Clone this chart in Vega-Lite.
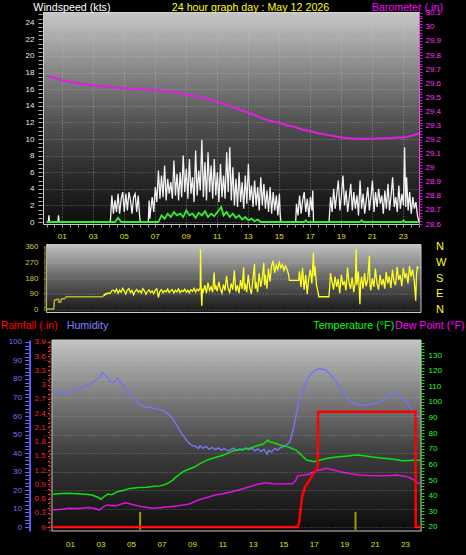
{
"$schema":"https://vega.github.io/schema/vega-lite/v6.json",
"background":"black",
"padding":{"left":0,"top":0,"right":8,"bottom":14},
"spacing":3.5,
"config":{"font":"Liberation Sans","view":{"stroke":null},
 "axis":{"labelFont":"Liberation Sans","titleFont":"Liberation Sans","labelFontSize":8,"titleFontSize":10.7,"titleFontWeight":"normal"},
 "line":{"clip":true},"rule":{"clip":true}},
"datasets":{
"hours":[{"h":1,"lab":"01"},{"h":3,"lab":"03"},{"h":5,"lab":"05"},{"h":7,"lab":"07"},{"h":9,"lab":"09"},{"h":11,"lab":"11"},{"h":13,"lab":"13"},{"h":15,"lab":"15"},{"h":17,"lab":"17"},{"h":19,"lab":"19"},{"h":21,"lab":"21"},{"h":23,"lab":"23"}],
"gust":[{"h":0,"g":0},{"h":0.1,"g":0},{"h":0.14,"g":0.8},{"h":0.18,"g":0},{"h":0.72,"g":0},{"h":0.76,"g":0.8},{"h":0.8,"g":0},{"h":4.1,"g":0},
{"h":4.2,"g":3.2},{"h":4.3,"g":1.0},{"h":4.4,"g":2.6},{"h":4.5,"g":1.2},{"h":4.6,"g":3.4},{"h":4.7,"g":1.0},{"h":4.8,"g":2.8},{"h":4.9,"g":3.6},{"h":5.0,"g":1.2},{"h":5.1,"g":3.4},{"h":5.2,"g":1.4},{"h":5.3,"g":3.6},{"h":5.4,"g":2.6},{"h":5.5,"g":1.0},{"h":5.6,"g":3.0},{"h":5.7,"g":3.4},{"h":5.8,"g":1.2},{"h":5.9,"g":3.2},{"h":6.0,"g":0.4},{"h":6.05,"g":0},
{"h":6.55,"g":0},{"h":6.6,"g":2.6},{"h":6.65,"g":0.4},{"h":6.7,"g":1.4},{"h":6.8,"g":3.0},{"h":6.9,"g":1.2},
{"h":7.0,"g":4.2},{"h":7.1,"g":2.4},{"h":7.2,"g":6.2},{"h":7.3,"g":2.8},{"h":7.4,"g":5.6},{"h":7.5,"g":3.0},{"h":7.6,"g":6.8},{"h":7.7,"g":2.6},{"h":7.8,"g":5.2},{"h":7.9,"g":3.4},{"h":8.0,"g":4.8},{"h":8.1,"g":2.8},{"h":8.2,"g":7.4},{"h":8.3,"g":3.2},{"h":8.4,"g":5.8},{"h":8.5,"g":2.6},{"h":8.6,"g":6.0},{"h":8.7,"g":3.0},{"h":8.8,"g":8.0},{"h":8.9,"g":3.6},{"h":9.0,"g":6.4},{"h":9.1,"g":2.8},{"h":9.2,"g":7.6},{"h":9.3,"g":3.4},{"h":9.4,"g":5.4},{"h":9.5,"g":2.4},{"h":9.6,"g":8.6},{"h":9.7,"g":3.2},{"h":9.8,"g":6.2},{"h":9.9,"g":3.8},{"h":10.0,"g":9.9},{"h":10.1,"g":3.0},{"h":10.2,"g":7.2},{"h":10.3,"g":2.6},{"h":10.4,"g":8.4},{"h":10.5,"g":3.6},{"h":10.6,"g":6.8},{"h":10.7,"g":2.8},{"h":10.8,"g":7.6},{"h":10.9,"g":3.2},{"h":11.0,"g":6.0},{"h":11.1,"g":2.4},{"h":11.2,"g":7.0},{"h":11.3,"g":3.0},{"h":11.4,"g":5.6},{"h":11.5,"g":2.8},{"h":11.6,"g":8.4},{"h":11.7,"g":3.6},{"h":11.8,"g":9.0},{"h":11.9,"g":2.6},{"h":12.0,"g":6.6},{"h":12.1,"g":2.0},{"h":12.2,"g":5.2},{"h":12.3,"g":1.8},{"h":12.4,"g":6.0},{"h":12.5,"g":2.4},{"h":12.6,"g":4.8},{"h":12.7,"g":1.6},{"h":12.8,"g":5.6},{"h":12.9,"g":2.2},{"h":13.0,"g":7.0},{"h":13.1,"g":2.6},{"h":13.2,"g":4.4},{"h":13.3,"g":1.8},{"h":13.4,"g":5.0},{"h":13.5,"g":2.0},{"h":13.6,"g":4.2},{"h":13.7,"g":1.4},{"h":13.8,"g":5.4},{"h":13.9,"g":2.0},{"h":14.0,"g":4.6},{"h":14.1,"g":1.6},{"h":14.2,"g":3.8},{"h":14.3,"g":1.2},{"h":14.4,"g":4.2},{"h":14.5,"g":1.0},{"h":14.6,"g":3.6},{"h":14.7,"g":1.4},{"h":14.8,"g":3.2},{"h":14.9,"g":0.8},{"h":15.0,"g":3.4},{"h":15.05,"g":1.0},{"h":15.1,"g":0},
{"h":16.05,"g":0},{"h":16.1,"g":2.2},{"h":16.2,"g":0.8},{"h":16.3,"g":3.2},{"h":16.4,"g":1.0},{"h":16.5,"g":2.6},{"h":16.6,"g":3.6},{"h":16.7,"g":1.2},{"h":16.8,"g":2.8},{"h":16.9,"g":0.6},{"h":17.0,"g":3.0},{"h":17.1,"g":1.4},{"h":17.15,"g":3.8},{"h":17.2,"g":0},
{"h":18.2,"g":0},{"h":18.3,"g":3.0},{"h":18.4,"g":1.2},{"h":18.5,"g":4.0},{"h":18.6,"g":1.6},{"h":18.7,"g":3.4},{"h":18.8,"g":5.0},{"h":18.9,"g":1.4},{"h":19.0,"g":3.2},{"h":19.1,"g":5.6},{"h":19.2,"g":2.0},{"h":19.3,"g":3.8},{"h":19.4,"g":1.2},{"h":19.5,"g":2.8},{"h":19.6,"g":4.6},{"h":19.7,"g":1.4},{"h":19.8,"g":3.6},{"h":19.9,"g":1.6},{"h":20.0,"g":3.2},{"h":20.1,"g":0.8},{"h":20.2,"g":5.0},{"h":20.3,"g":1.6},{"h":20.4,"g":3.4},{"h":20.5,"g":1.0},{"h":20.6,"g":2.6},{"h":20.7,"g":4.2},{"h":20.8,"g":1.4},{"h":20.9,"g":3.0},{"h":21.0,"g":5.0},{"h":21.1,"g":1.2},{"h":21.2,"g":3.6},{"h":21.3,"g":1.8},{"h":21.4,"g":4.0},{"h":21.5,"g":2.2},{"h":21.6,"g":3.2},{"h":21.7,"g":1.0},{"h":21.8,"g":3.8},{"h":21.9,"g":1.6},{"h":22.0,"g":4.6},{"h":22.1,"g":1.4},{"h":22.2,"g":3.2},{"h":22.3,"g":5.4},{"h":22.4,"g":1.8},{"h":22.5,"g":3.0},{"h":22.6,"g":1.2},{"h":22.7,"g":4.4},{"h":22.8,"g":1.6},{"h":22.9,"g":3.4},{"h":23.0,"g":2.0},{"h":23.07,"g":9.0},{"h":23.15,"g":1.8},{"h":23.2,"g":5.4},{"h":23.3,"g":1.4},{"h":23.4,"g":3.6},{"h":23.5,"g":1.0},{"h":23.6,"g":3.0},{"h":23.7,"g":1.6},{"h":23.8,"g":2.4},{"h":23.9,"g":0.8},{"h":24.0,"g":0}],
"avg":[{"h":0,"a":0},{"h":4.4,"a":0},{"h":4.6,"a":0.5},{"h":4.8,"a":0},{"h":7.2,"a":0},{"h":7.4,"a":0.8},{"h":7.6,"a":0.4},{"h":7.8,"a":1.0},{"h":8.0,"a":0.6},{"h":8.2,"a":1.2},{"h":8.4,"a":0.8},{"h":8.6,"a":1.0},{"h":8.8,"a":0.6},{"h":9.0,"a":1.4},{"h":9.2,"a":0.8},{"h":9.4,"a":1.0},{"h":9.6,"a":0.5},{"h":9.8,"a":1.1},{"h":10.0,"a":0.8},{"h":10.2,"a":1.3},{"h":10.4,"a":0.6},{"h":10.6,"a":1.0},{"h":10.8,"a":0.7},{"h":11.0,"a":1.2},{"h":11.25,"a":1.8},{"h":11.4,"a":0.8},{"h":11.6,"a":1.2},{"h":11.8,"a":0.6},{"h":12.0,"a":1.0},{"h":12.2,"a":0.5},{"h":12.4,"a":0.8},{"h":12.6,"a":0.3},{"h":12.8,"a":0.6},{"h":13.0,"a":0.2},{"h":13.2,"a":0.4},{"h":13.4,"a":0.1},{"h":13.6,"a":0.3},{"h":13.8,"a":0},{"h":16.6,"a":0},{"h":16.7,"a":0.2},{"h":16.8,"a":0},{"h":20.2,"a":0},{"h":20.3,"a":0.2},{"h":20.4,"a":0},{"h":22.9,"a":0},{"h":23.0,"a":0.2},{"h":23.1,"a":0},{"h":24,"a":0}],
"baro":[{"h":0,"p":29.65},{"h":0.5,"p":29.64},{"h":1,"p":29.62},{"h":1.5,"p":29.61},{"h":2,"p":29.6},{"h":2.5,"p":29.59},{"h":3,"p":29.585},{"h":3.5,"p":29.58},{"h":4,"p":29.575},{"h":4.5,"p":29.57},{"h":5,"p":29.565},{"h":5.5,"p":29.56},{"h":6,"p":29.56},{"h":6.5,"p":29.555},{"h":7,"p":29.55},{"h":7.5,"p":29.545},{"h":8,"p":29.54},{"h":8.5,"p":29.53},{"h":9,"p":29.52},{"h":9.5,"p":29.51},{"h":10,"p":29.5},{"h":10.5,"p":29.485},{"h":11,"p":29.47},{"h":11.5,"p":29.45},{"h":12,"p":29.43},{"h":12.5,"p":29.41},{"h":13,"p":29.39},{"h":13.5,"p":29.37},{"h":14,"p":29.345},{"h":14.5,"p":29.33},{"h":15,"p":29.32},{"h":15.5,"p":29.3},{"h":16,"p":29.29},{"h":16.5,"p":29.27},{"h":17,"p":29.26},{"h":17.5,"p":29.245},{"h":18,"p":29.235},{"h":18.5,"p":29.225},{"h":19,"p":29.215},{"h":19.5,"p":29.21},{"h":20,"p":29.205},{"h":20.5,"p":29.205},{"h":21,"p":29.205},{"h":21.5,"p":29.21},{"h":22,"p":29.21},{"h":22.5,"p":29.215},{"h":23,"p":29.215},{"h":23.5,"p":29.225},{"h":24,"p":29.245}],
"dir0":[{"h":0,"d":4},{"h":0.45,"d":4},{"h":0.5,"d":55},{"h":0.75,"d":60},{"h":0.8,"d":42},{"h":0.9,"d":45},{"h":0.95,"d":62},{"h":1.15,"d":62},{"h":1.25,"d":74},{"h":3.6,"d":74},{"h":3.75,"d":90},{"h":4.0,"d":95}],
"dir":[{"h":3.7,"d":80},{"h":3.8,"d":88},{"h":3.9,"d":92},{"h":4,"d":95},{"h":4.1,"d":94},{"h":4.2,"d":110},{"h":4.3,"d":112},{"h":4.4,"d":100},{"h":4.5,"d":118},{"h":4.6,"d":95},{"h":4.7,"d":112},{"h":4.8,"d":100},{"h":4.9,"d":122},{"h":5,"d":108},{"h":5.1,"d":90},{"h":5.2,"d":112},{"h":5.3,"d":120},{"h":5.4,"d":98},{"h":5.5,"d":110},{"h":5.6,"d":85},{"h":5.7,"d":104},{"h":5.8,"d":116},{"h":5.9,"d":100},{"h":6,"d":110},{"h":6.1,"d":96},{"h":6.2,"d":120},{"h":6.3,"d":108},{"h":6.4,"d":88},{"h":6.5,"d":104},{"h":6.6,"d":114},{"h":6.7,"d":98},{"h":6.8,"d":108},{"h":6.9,"d":92},{"h":7,"d":112},{"h":7.1,"d":120},{"h":7.2,"d":70},{"h":7.3,"d":105},{"h":7.4,"d":115},{"h":7.5,"d":96},{"h":7.6,"d":110},{"h":7.7,"d":102},{"h":7.8,"d":118},{"h":7.9,"d":98},{"h":8,"d":108},{"h":8.1,"d":115},{"h":8.2,"d":95},{"h":8.3,"d":112},{"h":8.4,"d":102},{"h":8.5,"d":120},{"h":8.6,"d":98},{"h":8.7,"d":110},{"h":8.8,"d":104},{"h":8.9,"d":118},{"h":9,"d":100},{"h":9.1,"d":112},{"h":9.2,"d":96},{"h":9.3,"d":115},{"h":9.4,"d":105},{"h":9.5,"d":122},{"h":9.6,"d":100},{"h":9.7,"d":118},{"h":9.8,"d":108},{"h":9.9,"d":125},{"h":9.92,"d":347},{"h":9.96,"d":110},{"h":10,"d":22},{"h":10.05,"d":120},{"h":10.1,"d":105},{"h":10.2,"d":140},{"h":10.3,"d":95},{"h":10.4,"d":155},{"h":10.5,"d":110},{"h":10.6,"d":130},{"h":10.7,"d":100},{"h":10.8,"d":213},{"h":10.85,"d":115},{"h":10.9,"d":140},{"h":11,"d":105},{"h":11.1,"d":160},{"h":11.2,"d":120},{"h":11.3,"d":95},{"h":11.4,"d":145},{"h":11.5,"d":110},{"h":11.6,"d":194},{"h":11.7,"d":120},{"h":11.8,"d":100},{"h":11.9,"d":150},{"h":12,"d":115},{"h":12.1,"d":225},{"h":12.2,"d":105},{"h":12.3,"d":140},{"h":12.4,"d":95},{"h":12.5,"d":170},{"h":12.6,"d":118},{"h":12.7,"d":242},{"h":12.75,"d":110},{"h":12.8,"d":150},{"h":12.9,"d":100},{"h":13,"d":200},{"h":13.1,"d":125},{"h":13.2,"d":90},{"h":13.3,"d":175},{"h":13.4,"d":261},{"h":13.45,"d":120},{"h":13.5,"d":160},{"h":13.6,"d":100},{"h":13.7,"d":210},{"h":13.8,"d":130},{"h":13.9,"d":180},{"h":14,"d":268},{"h":14.05,"d":140},{"h":14.1,"d":200},{"h":14.2,"d":120},{"h":14.3,"d":235},{"h":14.4,"d":160},{"h":14.5,"d":250},{"h":14.6,"d":280},{"h":14.7,"d":210},{"h":14.8,"d":255},{"h":14.9,"d":230},{"h":15,"d":270},{"h":15.1,"d":240},{"h":15.2,"d":258},{"h":15.3,"d":225},{"h":15.4,"d":250},{"h":15.5,"d":232},{"h":15.6,"d":200},{"h":15.65,"d":168},{"h":16.25,"d":168},{"h":16.3,"d":220},{"h":16.4,"d":130},{"h":16.5,"d":240},{"h":16.6,"d":115},{"h":16.7,"d":200},{"h":16.8,"d":90},{"h":16.9,"d":180},{"h":17,"d":230},{"h":17.1,"d":150},{"h":17.2,"d":326},{"h":17.25,"d":190},{"h":17.3,"d":250},{"h":17.4,"d":140},{"h":17.5,"d":100},{"h":17.55,"d":74},{"h":18.2,"d":74},{"h":18.25,"d":130},{"h":18.3,"d":210},{"h":18.4,"d":160},{"h":18.5,"d":115},{"h":18.6,"d":190},{"h":18.7,"d":130},{"h":18.8,"d":175},{"h":18.9,"d":95},{"h":19,"d":200},{"h":19.1,"d":140},{"h":19.2,"d":165},{"h":19.3,"d":110},{"h":19.4,"d":242},{"h":19.5,"d":150},{"h":19.6,"d":120},{"h":19.7,"d":185},{"h":19.8,"d":100},{"h":19.9,"d":160},{"h":19.96,"d":347},{"h":20,"d":140},{"h":20.1,"d":220},{"h":20.2,"d":32},{"h":20.25,"d":150},{"h":20.3,"d":190},{"h":20.4,"d":120},{"h":20.5,"d":210},{"h":20.6,"d":135},{"h":20.7,"d":170},{"h":20.81,"d":309},{"h":20.85,"d":150},{"h":20.9,"d":110},{"h":21,"d":180},{"h":21.1,"d":130},{"h":21.2,"d":235},{"h":21.3,"d":150},{"h":21.4,"d":115},{"h":21.5,"d":200},{"h":21.6,"d":140},{"h":21.7,"d":175},{"h":21.8,"d":120},{"h":21.9,"d":215},{"h":22,"d":150},{"h":22.1,"d":190},{"h":22.2,"d":125},{"h":22.3,"d":230},{"h":22.4,"d":160},{"h":22.5,"d":140},{"h":22.6,"d":245},{"h":22.7,"d":170},{"h":22.8,"d":200},{"h":22.9,"d":135},{"h":23,"d":240},{"h":23.1,"d":180},{"h":23.2,"d":210},{"h":23.3,"d":150},{"h":23.4,"d":250},{"h":23.5,"d":190},{"h":23.6,"d":230},{"h":23.7,"d":170},{"h":23.8,"d":51},{"h":23.85,"d":200},{"h":23.9,"d":245},{"h":24,"d":238}],
"hum":[{"h":-0.2,"v":73},{"h":0,"v":73},{"h":0.5,"v":72},{"h":1,"v":73},{"h":1.3,"v":74},{"h":1.8,"v":75.5},{"h":2.2,"v":77},{"h":2.6,"v":79},{"h":2.9,"v":81},{"h":3.1,"v":83.5},{"h":3.3,"v":82},{"h":3.6,"v":78.5},{"h":3.8,"v":78},{"h":4.1,"v":80.5},{"h":4.3,"v":78},{"h":4.6,"v":75},{"h":4.9,"v":72.4},{"h":5.2,"v":69},{"h":5.5,"v":66.5},{"h":5.8,"v":65},{"h":6.3,"v":64.5},{"h":6.8,"v":63.5},{"h":7.1,"v":63},{"h":7.4,"v":61},{"h":7.7,"v":58.7},{"h":8,"v":54.5},{"h":8.3,"v":50.6},{"h":8.6,"v":47},{"h":8.8,"v":45.2},{"h":9,"v":44},{"h":9.25,"v":43.4},{"h":9.4,"v":42.4},{"h":9.5,"v":44},{"h":9.7,"v":42.5},{"h":9.9,"v":43.6},{"h":10.1,"v":42},{"h":10.3,"v":43},{"h":10.5,"v":41.8},{"h":10.7,"v":42.8},{"h":10.9,"v":41.6},{"h":11.1,"v":42.4},{"h":11.3,"v":41.2},{"h":11.5,"v":41.8},{"h":11.7,"v":42.6},{"h":11.9,"v":41.4},{"h":12.1,"v":42.2},{"h":12.3,"v":41.6},{"h":12.5,"v":42.8},{"h":12.7,"v":41.8},{"h":12.9,"v":42.6},{"h":13.1,"v":41.2},{"h":13.3,"v":42.2},{"h":13.5,"v":40.8},{"h":13.7,"v":42},{"h":13.9,"v":39.5},{"h":14,"v":41.5},{"h":14.2,"v":40.6},{"h":14.4,"v":42.4},{"h":14.6,"v":41.6},{"h":14.8,"v":43},{"h":15,"v":43.5},{"h":15.2,"v":44.5},{"h":15.4,"v":46},{"h":15.6,"v":52},{"h":15.75,"v":58},{"h":15.9,"v":64},{"h":16,"v":68.6},{"h":16.2,"v":73},{"h":16.5,"v":79.5},{"h":16.8,"v":83},{"h":17.1,"v":85},{"h":17.4,"v":85.5},{"h":17.7,"v":85},{"h":18,"v":83},{"h":18.2,"v":81},{"h":18.4,"v":79},{"h":18.7,"v":75},{"h":19,"v":71.5},{"h":19.3,"v":68.6},{"h":19.6,"v":67},{"h":20,"v":66},{"h":20.4,"v":66},{"h":20.8,"v":66.5},{"h":21.3,"v":67.5},{"h":21.7,"v":69.5},{"h":22,"v":71.5},{"h":22.3,"v":72.5},{"h":22.6,"v":71.5},{"h":22.8,"v":69.5},{"h":23.1,"v":67},{"h":23.3,"v":64.5},{"h":23.5,"v":62.3},{"h":23.7,"v":60.5},{"h":23.9,"v":59.5},{"h":24,"v":59}],
"temp":[{"h":-0.2,"t":41},{"h":0.2,"t":41.2},{"h":0.8,"t":41.6},{"h":1.4,"t":41.3},{"h":2,"t":41},{"h":2.4,"t":40.5},{"h":2.8,"t":39},{"h":3,"t":37.7},{"h":3.2,"t":39.5},{"h":3.45,"t":41.1},{"h":3.7,"t":40.6},{"h":4.1,"t":42.6},{"h":4.5,"t":43.5},{"h":4.9,"t":44.7},{"h":5.5,"t":45.2},{"h":6,"t":45.5},{"h":6.5,"t":46},{"h":6.9,"t":46.3},{"h":7.2,"t":47.2},{"h":7.5,"t":48.5},{"h":7.7,"t":50},{"h":8,"t":52.5},{"h":8.4,"t":55.4},{"h":8.7,"t":56.8},{"h":9.1,"t":58.2},{"h":9.5,"t":60.5},{"h":9.95,"t":62.8},{"h":10.5,"t":64.5},{"h":11.05,"t":66},{"h":11.4,"t":67.6},{"h":11.7,"t":68.8},{"h":12.2,"t":69.6},{"h":12.75,"t":70.3},{"h":13.2,"t":71.8},{"h":13.65,"t":73.1},{"h":13.95,"t":75.6},{"h":14.1,"t":74.3},{"h":14.3,"t":74},{"h":14.7,"t":72.6},{"h":15.2,"t":71.4},{"h":15.5,"t":70.4},{"h":15.8,"t":69.2},{"h":16.1,"t":66.5},{"h":16.5,"t":62.8},{"h":17,"t":61.8},{"h":17.4,"t":62.8},{"h":17.8,"t":63.8},{"h":18.3,"t":64.6},{"h":19,"t":65.3},{"h":19.8,"t":66},{"h":20.3,"t":65.6},{"h":20.7,"t":65},{"h":21.4,"t":64.2},{"h":22.2,"t":63.3},{"h":22.8,"t":62.4},{"h":23.3,"t":62.6},{"h":23.7,"t":62.8},{"h":24,"t":62.6}],
"dew":[{"h":-0.2,"t":30.9},{"h":0.4,"t":31.3},{"h":0.9,"t":32},{"h":1.5,"t":31.8},{"h":2.2,"t":32.4},{"h":2.6,"t":31.8},{"h":2.9,"t":30.9},{"h":3.1,"t":32.5},{"h":3.4,"t":34.1},{"h":3.9,"t":33.5},{"h":4.3,"t":34.6},{"h":4.6,"t":35.5},{"h":5,"t":34.6},{"h":5.4,"t":33.6},{"h":5.7,"t":33},{"h":6.4,"t":32},{"h":7,"t":32.4},{"h":7.5,"t":33},{"h":8.2,"t":33.8},{"h":8.8,"t":34.7},{"h":9.1,"t":36},{"h":9.4,"t":37.3},{"h":10,"t":39},{"h":10.5,"t":40.5},{"h":11,"t":41.2},{"h":11.6,"t":42.6},{"h":12.2,"t":44.2},{"h":12.75,"t":45.8},{"h":13.3,"t":47.4},{"h":13.8,"t":48.3},{"h":14.3,"t":47.6},{"h":14.9,"t":47.5},{"h":15.6,"t":47.8},{"h":15.8,"t":50},{"h":15.9,"t":52.6},{"h":16.3,"t":53.2},{"h":16.7,"t":53.9},{"h":17.1,"t":56},{"h":17.5,"t":56.8},{"h":17.8,"t":57.5},{"h":18.2,"t":56.6},{"h":18.7,"t":55.4},{"h":19.3,"t":54.2},{"h":19.97,"t":53.3},{"h":20.6,"t":52.9},{"h":21.3,"t":52.7},{"h":22,"t":53},{"h":22.4,"t":53.3},{"h":23.1,"t":52.2},{"h":23.5,"t":50.4},{"h":23.8,"t":48.3},{"h":24,"t":47.5}],
"rain":[{"h":-0.2,"r":0},{"h":15.9,"r":0},{"h":16,"r":0.08},{"h":16.1,"r":0.35},{"h":16.2,"r":0.64},{"h":16.4,"r":0.85},{"h":16.7,"r":0.99},{"h":16.9,"r":1.1},{"h":17.1,"r":1.2},{"h":17.22,"r":1.25},{"h":17.25,"r":2.43},{"h":23.65,"r":2.43},{"h":23.66,"r":0},{"h":24,"r":0}],
"rate":[{"h":5.57,"r":0.32},{"h":19.71,"r":0.32}]
},
"vconcat":[
{"width":376,"height":212,
 "view":{"fill":{"gradient":"linear","x1":0,"y1":0,"x2":0,"y2":1,"stops":[{"offset":0,"color":"#c6c6c6"},{"offset":0.25,"color":"#8c8c8c"},{"offset":0.5,"color":"#555555"},{"offset":0.75,"color":"#2c2c2c"},{"offset":1,"color":"#0e0e0e"}]},"stroke":"#d0d0d0","strokeWidth":1},
 "layer":[
  {"data":{"name":"gust"},"mark":{"type":"line","color":"#f2f2f2","strokeWidth":1.3},
   "encoding":{
    "x":{"field":"h","type":"quantitative","scale":{"domain":[-0.24,24],"nice":false,"zero":false},
      "axis":{"orient":"bottom","values":[0,0.5,1,1.5,2,2.5,3,3.5,4,4.5,5,5.5,6,6.5,7,7.5,8,8.5,9,9.5,10,10.5,11,11.5,12,12.5,13,13.5,14,14.5,15,15.5,16,16.5,17,17.5,18,18.5,19,19.5,20,20.5,21,21.5,22,22.5,23,23.5,24],"labels":false,"tickSize":3,"tickColor":"#a0a0a0","domain":false,"title":null,"grid":true,"gridColor":"#c8c8c8","gridDash":[1,2],"gridOpacity":{"condition":{"test":"datum.value % 2 == 1","value":0.55},"value":0}}},
    "y":{"field":"g","type":"quantitative","scale":{"domain":[-0.24,25.3],"nice":false,"zero":false},
      "axis":{"orient":"left","values":[0,0.5,1,1.5,2,2.5,3,3.5,4,4.5,5,5.5,6,6.5,7,7.5,8,8.5,9,9.5,10,10.5,11,11.5,12,12.5,13,13.5,14,14.5,15,15.5,16,16.5,17,17.5,18,18.5,19,19.5,20,20.5,21,21.5,22,22.5,23,23.5,24,24.5,25],"labelExpr":"datum.value % 2 == 0 ? '' + datum.value : ''","labelOverlap":false,"labelFlush":false,"labelColor":"#e4ecff","tickColor":"#b0b0b0","tickSize":4,"offset":1,"labelPadding":4,"domain":false,"grid":true,"gridColor":"#c8c8c8","gridDash":[1,2],"gridOpacity":{"condition":{"test":"datum.value % 2 == 0","value":0.45},"value":0},"title":"Windspeed (kts)","titleColor":"#ffffff","titleAngle":0,"titleAlign":"left","titleBaseline":"top","titleX":-9.2,"titleY":-10}}}},
  {"data":{"name":"avg"},"mark":{"type":"line","color":"#30f030","strokeWidth":1.8},
   "encoding":{"x":{"field":"h","type":"quantitative","axis":null},
    "y":{"field":"a","type":"quantitative","scale":{"domain":[-0.24,25.3],"nice":false,"zero":false},"axis":null}}},
  {"data":{"name":"baro"},"mark":{"type":"line","color":"#e020e0","strokeWidth":2},
   "encoding":{
    "x":{"field":"h","type":"quantitative","axis":{"orient":"top","labels":false,"ticks":false,"domain":false,"grid":false,"title":"24 hour graph day : May 12 2026","titleColor":"#ffff00","titleX":207,"titleY":-10,"titleAlign":"center","titleBaseline":"top","titleAngle":0}},
    "y":{"field":"p","type":"quantitative","scale":{"domain":[28.6,30.106],"nice":false,"zero":false},
      "axis":{"orient":"right","values":[28.6,28.62,28.64,28.66,28.68,28.7,28.72,28.74,28.76,28.78,28.8,28.82,28.84,28.86,28.88,28.9,28.92,28.94,28.96,28.98,29,29.02,29.04,29.06,29.08,29.1,29.12,29.14,29.16,29.18,29.2,29.22,29.24,29.26,29.28,29.3,29.32,29.34,29.36,29.38,29.4,29.42,29.44,29.46,29.48,29.5,29.52,29.54,29.56,29.58,29.6,29.62,29.64,29.66,29.68,29.7,29.72,29.74,29.76,29.78,29.8,29.82,29.84,29.86,29.88,29.9,29.92,29.94,29.96,29.98,30,30.02,30.04,30.06,30.08,30.1],"labelExpr":"abs(datum.value*10 - round(datum.value*10)) < 0.001 ? format(datum.value, '.1~f') : ''","labelOverlap":false,"labelFlush":false,"labelColor":"#ff30ff","tickColor":"#e000e0","tickSize":3,"labelPadding":3,"domain":true,"domainColor":"#e000e0","domainDash":[1,1],"grid":false,"title":"Barometer (.in)","titleColor":"#ff00ff","titleAngle":0,"titleAlign":"left","titleBaseline":"top","titleX":-47.8,"titleY":-10}}}}
 ],
 "resolve":{"scale":{"y":"independent"},"axis":{"x":"independent","y":"independent"}}
},
{"width":378,"height":68,
 "layer":[
  {"data":{"values":[{}]},"mark":{"type":"rect","fill":{"gradient":"linear","x1":0,"y1":0,"x2":0,"y2":1,"stops":[{"offset":0,"color":"#c2c2c2"},{"offset":0.5,"color":"#626262"},{"offset":1,"color":"#161616"}]},"stroke":"#c8c8c8","strokeWidth":1},
   "encoding":{
    "x":{"datum":-0.01,"type":"quantitative","scale":{"domain":[-0.24,24.14],"nice":false,"zero":false},"axis":null},
    "x2":{"datum":24.14},
    "y":{"datum":-16,"type":"quantitative","scale":{"domain":[-16,373],"nice":false,"zero":false},
      "axis":{"orient":"left","values":[0,10,20,30,40,50,60,70,80,90,100,110,120,130,140,150,160,170,180,190,200,210,220,230,240,250,260,270,280,290,300,310,320,330,340,350,360],"labelExpr":"datum.value % 90 == 0 ? datum.label : ''","labelOverlap":false,"labelFlush":false,"labelColor":"#c8c840","tickColor":"#a0a040","tickSize":3,"offset":-3.5,"labelPadding":5.5,"domain":false,"grid":true,"gridColor":"#d0d0d0","gridDash":[1,2],"gridOpacity":{"condition":{"test":"datum.value % 90 == 0","value":0.5},"value":0},"zindex":1,"title":null}},
    "y2":{"datum":373}}},
  {"data":{"name":"dir0"},"mark":{"type":"line","color":"#b4b430","strokeWidth":1.5},
   "encoding":{"x":{"field":"h","type":"quantitative","axis":null},"y":{"field":"d","type":"quantitative","axis":null}}},
  {"data":{"name":"dir"},"mark":{"type":"line","color":"#ffff20","strokeWidth":1.3},
   "encoding":{"x":{"field":"h","type":"quantitative","axis":null},
    "y":{"field":"d","type":"quantitative","axis":{"orient":"right","values":[0,90,180,270,360],"labelExpr":"datum.value == 270 ? 'W' : datum.value == 180 ? 'S' : datum.value == 90 ? 'E' : 'N'","labelOverlap":false,"labelFlush":false,"labelColor":"#ffff20","labelFontSize":11,"ticks":false,"tickSize":0,"domain":false,"grid":false,"labelPadding":14.5,"title":null}}}},
  {"data":{"name":"hours"},"mark":{"type":"text","color":"#e0e000","fontSize":8,"font":"Liberation Sans","baseline":"alphabetic","align":"center","clip":false},
   "encoding":{"x":{"field":"h","type":"quantitative","axis":null},"y":{"datum":407,"type":"quantitative","axis":null},"text":{"field":"lab"}}}
 ],
 "resolve":{"axis":{"y":"independent"}}
},
{"width":378,"height":191,
 "layer":[
  {"data":{"values":[{}]},"mark":{"type":"rect","fill":{"gradient":"linear","x1":0,"y1":0,"x2":0,"y2":1,"stops":[{"offset":0,"color":"#c4c4c4"},{"offset":0.3,"color":"#7c7c7c"},{"offset":0.6,"color":"#3c3c3c"},{"offset":1,"color":"#0c0c0c"}]},"stroke":"#c8c8c8","strokeWidth":1},
   "encoding":{
    "x":{"datum":-0.22,"type":"quantitative","scale":{"domain":[-0.808,24.01],"nice":false,"zero":false},
      "axis":{"orient":"bottom","values":[0,0.5,1,1.5,2,2.5,3,3.5,4,4.5,5,5.5,6,6.5,7,7.5,8,8.5,9,9.5,10,10.5,11,11.5,12,12.5,13,13.5,14,14.5,15,15.5,16,16.5,17,17.5,18,18.5,19,19.5,20,20.5,21,21.5,22,22.5,23,23.5,24],"labels":false,"tickColor":"#909090","tickSize":3,"domain":false,"grid":true,"gridColor":"#d0d0d0","gridDash":[1,2],"gridOpacity":{"condition":{"test":"datum.value % 2 == 1","value":0.5},"value":0},"zindex":1,"title":null}},
    "x2":{"datum":24.01},
    "y":{"datum":0,"type":"quantitative","scale":{"domain":[0,1],"nice":false,"zero":false},"axis":null},
    "y2":{"datum":1}}},
  {"data":{"name":"rate"},"mark":{"type":"rule","color":"#a89800","strokeWidth":2},
   "encoding":{"x":{"field":"h","type":"quantitative","axis":null},
    "y":{"field":"r","type":"quantitative","scale":{"domain":[-0.084,3.942],"nice":false,"zero":false},"axis":null},
    "y2":{"datum":-0.06}}},
  {"data":{"name":"hum"},"mark":{"type":"line","color":"#7474f0","strokeWidth":1.5},
   "encoding":{"x":{"field":"h","type":"quantitative","axis":null},
    "y":{"field":"v","type":"quantitative","scale":{"domain":[-2.16,101.08],"nice":false,"zero":false},
     "axis":{"orient":"left","offset":13.5,"values":[0,2,4,6,8,10,12,14,16,18,20,22,24,26,28,30,32,34,36,38,40,42,44,46,48,50,52,54,56,58,60,62,64,66,68,70,72,74,76,78,80,82,84,86,88,90,92,94,96,98,100],"labelExpr":"datum.value % 10 == 0 ? datum.label : ''","labelOverlap":false,"labelFlush":false,"labelColor":"#7070ff","tickColor":"#6868ff","tickSize":5,"labelPadding":3,"domain":true,"domainColor":"#5858ff","domainWidth":2,"grid":true,"gridColor":"#d0d0d0","gridDash":[1,2],"gridOpacity":{"condition":{"test":"datum.value % 10 == 0","value":0.4},"value":0},"zindex":1,"title":"Humidity","titleColor":"#8080ff","titleAngle":0,"titleAlign":"left","titleBaseline":"top","titleX":36.7,"titleY":-19.5}}}},
  {"data":{"name":"temp"},"mark":{"type":"line","color":"#10e010","strokeWidth":1.5},
   "encoding":{"x":{"field":"h","type":"quantitative","axis":null},
    "y":{"field":"t","type":"quantitative","scale":{"domain":[17.44,139.6],"nice":false,"zero":false},
     "axis":{"orient":"right","values":[20,22,24,26,28,30,32,34,36,38,40,42,44,46,48,50,52,54,56,58,60,62,64,66,68,70,72,74,76,78,80,82,84,86,88,90,92,94,96,98,100,102,104,106,108,110,112,114,116,118,120,122,124,126,128,130,132,134,136,138],"labelExpr":"datum.value % 10 == 0 ? datum.label : ''","labelOverlap":false,"labelFlush":false,"labelColor":"#20ff20","tickColor":"#20d020","tickSize":3,"labelPadding":4,"domain":true,"domainColor":"#20c020","domainDash":[2,2],"grid":false,"zindex":1,"title":"Temperature (°F)","titleColor":"#00ff00","titleAngle":0,"titleAlign":"left","titleBaseline":"top","titleX":-108.2,"titleY":-19.5}}}},
  {"data":{"name":"dew"},"mark":{"type":"line","color":"#e010e0","strokeWidth":1.5},
   "encoding":{"x":{"field":"h","type":"quantitative","axis":null},
    "y":{"field":"t","type":"quantitative","scale":{"domain":[17.44,139.6],"nice":false,"zero":false},
     "axis":{"orient":"right","labels":false,"ticks":false,"domain":false,"grid":false,"title":"Dew Point (°F)","titleColor":"#ff00ff","titleAngle":0,"titleAlign":"left","titleBaseline":"top","titleX":-26.5,"titleY":-19.5}}}},
  {"data":{"name":"rain"},"mark":{"type":"line","color":"#ff0000","strokeWidth":2.5},
   "encoding":{"x":{"field":"h","type":"quantitative","axis":null},
    "y":{"field":"r","type":"quantitative","scale":{"domain":[-0.084,3.942],"nice":false,"zero":false},
     "axis":{"orient":"left","offset":-6.5,"values":[0,0.1,0.2,0.3,0.4,0.5,0.6,0.7,0.8,0.9,1,1.1,1.2,1.3,1.4,1.5,1.6,1.7,1.8,1.9,2,2.1,2.2,2.3,2.4,2.5,2.6,2.7,2.8,2.9,3,3.1,3.2,3.3,3.4,3.5,3.6,3.7,3.8,3.9],"labelExpr":"round(datum.value*10) % 3 == 0 ? format(datum.value, '.1~f') : ''","labelOverlap":false,"labelFlush":false,"labelColor":"#ff2020","tickColor":"#ff3030","tickSize":2,"labelPadding":2.3,"domain":true,"domainColor":"#ff4040","domainDash":[2,2],"grid":false,"zindex":1,"title":"Rainfall (.in)","titleColor":"#ff0000","titleAngle":0,"titleAlign":"left","titleBaseline":"top","titleX":-49.3,"titleY":-19.5}}}},
  {"data":{"name":"hours"},"mark":{"type":"text","color":"#e0e000","fontSize":8,"font":"Liberation Sans","baseline":"alphabetic","align":"center","clip":false},
   "encoding":{"x":{"field":"h","type":"quantitative","axis":null},"y":{"datum":-0.082,"type":"quantitative","scale":{"domain":[0,1],"nice":false,"zero":false},"axis":null},"text":{"field":"lab"}}}
 ],
 "resolve":{"scale":{"y":"independent"},"axis":{"y":"independent"}}
}
]
}
